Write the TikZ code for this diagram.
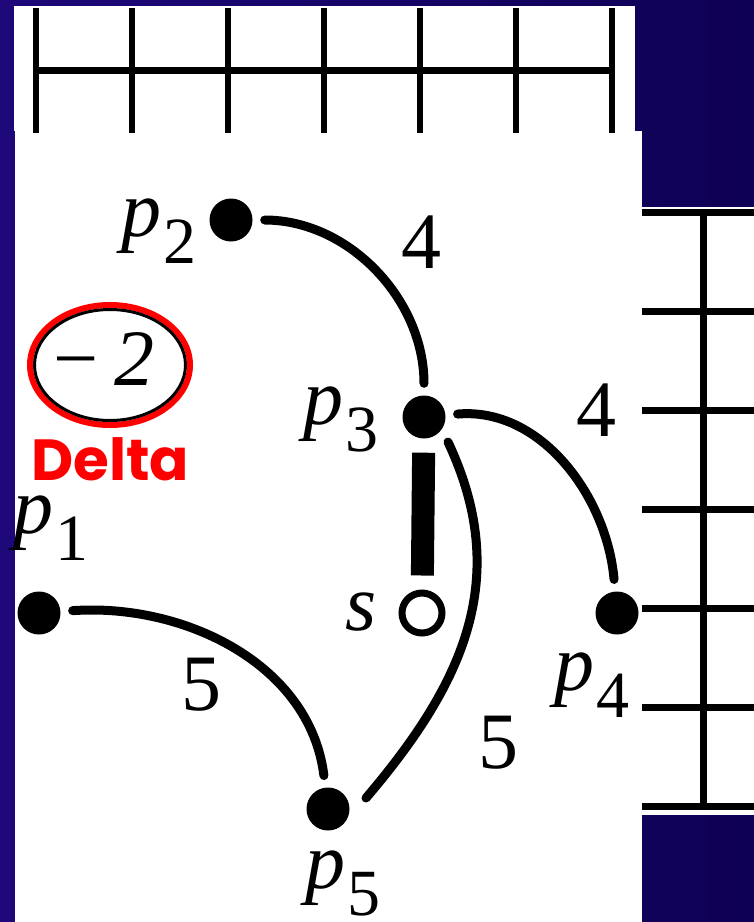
\documentclass[tikz,border=0pt]{standalone}
\usepackage{fontspec}
\IfFontExistsTF{LiberationSerif-Regular.ttf}{\setmainfont{LiberationSerif}[Extension=.ttf,UprightFont=*-Regular,ItalicFont=*-Italic,BoldFont=*-Bold]}{}
\newfontfamily\deltafont{Poppins}
\usepackage{tikz}
\usetikzlibrary{positioning,calc}
\definecolor{slideblue}{RGB}{30,8,122}
\definecolor{slidenavy}{RGB}{14,0,84}
\definecolor{deltared}{RGB}{255,0,0}
\newcommand{\pname}[1]{\textit{p}\kern2pt\raisebox{-27pt}{\fontsize{66}{66}\selectfont #1}}
\newcommand{\rulerline}[2]{\draw[rule] #1 -- #2;}

\begin{document}
\begin{tikzpicture}[x=1pt,y=-1pt,
  dot/.style={circle,fill=black,inner sep=0pt,minimum size=43pt},
  hollow/.style={circle,draw=black,line width=7pt,fill=white,inner sep=0pt,minimum size=40pt},
  arc/.style={line width=9pt,line cap=round,shorten <=12pt,shorten >=12pt},
  heavy/.style={line width=23pt,shorten <=14pt,shorten >=14pt},
  tag/.style={inner sep=0pt,font=\fontsize{80}{80}\selectfont},
  rule/.style={line width=7pt}]
\useasboundingbox (0,0) rectangle (754,922);
\shade[left color=slideblue,right color=slidenavy] (0,0) rectangle (754,922);
\fill[white] (14,6) rectangle (635,131);
\fill[white] (15,131) rectangle (642,922);
\fill[white] (642,207) rectangle (754,815);

\foreach \tx in {36,132,...,612} {\draw[rule,line width=6pt] (\tx,8) -- (\tx,133);}
\rulerline{(36,70)}{(614,70)}
\rulerline{(703,212)}{(703,806)}
\foreach \ty in {212,311,...,806} {\rulerline{(642,\ty)}{(754,\ty)}}

\node[dot] (p1) at (39,613) {};
\node[dot] (p2) at (231,220) {};
\node[dot] (p3) at (424,417) {};
\node[hollow] (s) at (422,613) {};
\node[dot] (p4) at (617,613) {};
\node[dot] (p5) at (328,809) {};

\node[tag,anchor=base east] (p2name) at (197,236) {\pname{2}};
\node[tag,anchor=base east] (p3name) at (379,424) {\pname{3}};
\node[tag,anchor=base west] (p1name) at (13,533) {\pname{1}};
\node[tag,anchor=base east] (p4name) at (630,690) {\pname{4}};
\node[tag,anchor=base west] (p5name) at (305,888) {\pname{5}};
\node[tag,anchor=base east] (sname) at (377,630) {\textit{s}};

\draw[arc] (p2) to[out=0,in=90] (p3);
\draw[arc] (p3) to[out=5,in=95] (p4);
\draw[arc] (p1) to[out=4,in=97] (p5);
\draw[arc,shorten <=0pt,shorten >=0pt] ($(p3)+(24,25)$) .. controls ($(p3)+(88,161)$) and ($(p5)+(136,-126)$) .. ($(p5)+(38,-11)$);
\draw[heavy] (p3) -- (s);

\node[tag,anchor=base] (w23) at (421,268) {4};
\node[tag,anchor=base] (w34) at (596,436) {4};
\node[tag,anchor=base] (w15) at (201,710) {5};
\node[tag,anchor=base] (w35) at (498,768) {5};

\node[tag,anchor=base] (gain) at (104,385) {−\kern0.2em\textit{2}};
\draw[deltared,line width=6pt] (110,365) ellipse [x radius=80pt,y radius=60pt];
\draw[black,line width=3pt] (110,365) ellipse [x radius=75.5pt,y radius=55.5pt];
\node[inner sep=0pt,anchor=base west,text=deltared,font=\deltafont\bfseries\fontsize{58}{58}\selectfont] (delta) at (31,480) {Delta};
\end{tikzpicture}
\end{document}
